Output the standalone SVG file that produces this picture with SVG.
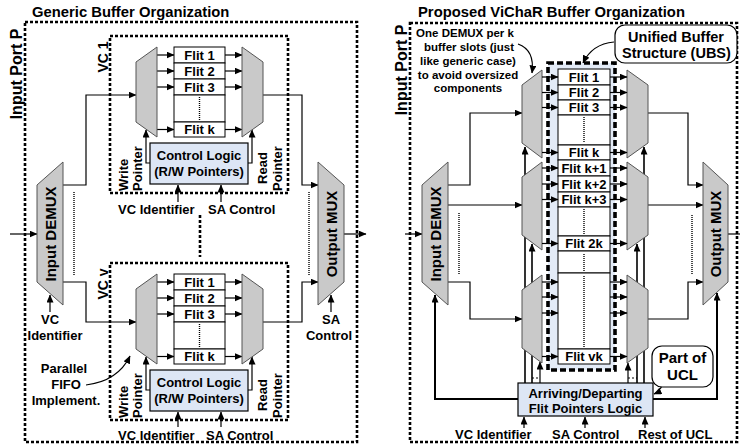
<svg xmlns="http://www.w3.org/2000/svg" width="740" height="446" viewBox="0 0 740 446">
<defs>
<marker id="ah" markerUnits="userSpaceOnUse" markerWidth="8" markerHeight="7" refX="7.5" refY="3.5" orient="auto" viewBox="0 0 8 7"><path d="M0,0 L8,3.5 L0,7 z" fill="#000"/></marker>
<style>
text{font-family:"Liberation Sans",Arial,Helvetica,sans-serif;font-weight:bold;fill:#000}
.f13{font-size:13px}
.f15{font-size:15px}
.c{text-anchor:middle}
.dbox{fill:none;stroke:#000;stroke-width:2.6;stroke-dasharray:3 2}
.ubs{fill:#e3ebf7;stroke:#000;stroke-width:3.6;stroke-dasharray:6 3}
.trap{fill:#c9c9c9;stroke:#555;stroke-width:1}
.flit{fill:#fff;stroke:#000;stroke-width:1}
.ln{fill:none;stroke:#000;stroke-width:1.2}
.arr{marker-end:url(#ah)}
.thk{fill:none;stroke:#000;stroke-width:2}
.dot{fill:none;stroke:#000;stroke-width:1.4;stroke-dasharray:1 1}
.blue{fill:#dde6f5;stroke:#000;stroke-width:1.2}
.rnd{fill:#fff;stroke:#000;stroke-width:1.2}
</style>
</defs>
<rect width="740" height="446" fill="#fff"/>

<!-- frames -->
<g id="generic-frame">
<text x="32" y="17" style="font-size:14.8px">Generic Buffer Organization</text>
<rect class="dbox" x="25" y="22" width="332" height="420"/>
<text transform="translate(22,74) rotate(-90)" class="c" style="font-size:16px">Input Port P</text>
<line class="dbox" x1="200" y1="215" x2="200" y2="257"/>
</g>
<g id="vichar-frame">
<text x="418" y="17" style="font-size:14.8px">Proposed ViChaR Buffer Organization</text>
<rect class="dbox" x="410" y="23" width="327" height="419"/>
<text transform="translate(407,70) rotate(-90)" class="c" style="font-size:16px">Input Port P</text>
</g>

<!-- connectors -->
<g id="connectors" class="ln">
<!-- left panel -->
<path class="arr" d="M10,234 H37"/>
<path class="arr" d="M63,185 H86 V95 H136"/>
<path class="arr" d="M63,282 H86 V322 H136"/>
<path class="arr" d="M263,95 H302 V185 H318"/>
<path class="arr" d="M263,322 H302 V282 H318"/>
<path class="arr" d="M344,234 H366"/>
<path class="arr" d="M50,312 V295"/>
<path class="arr" d="M331,312 V295"/>
<path class="arr" d="M86,385 Q118,381 130,356"/>
<line class="dot" x1="74" y1="192" x2="74" y2="275"/>
<line class="dot" x1="309" y1="192" x2="309" y2="275"/>
<g id="vc1-links">
<path class="arr" d="M157,55 H174"/><path class="arr" d="M157,71 H174"/><path class="arr" d="M157,87 H174"/><path class="arr" d="M157,129.5 H174"/>
<path class="arr" d="M225,55 H242"/><path class="arr" d="M225,71 H242"/><path class="arr" d="M225,87 H242"/><path class="arr" d="M225,129.5 H242"/>
<path class="arr" d="M150,163 H146 V130"/>
<path class="arr" d="M248,163 H252 V130"/>
<path class="arr" d="M178,202 V185"/>
<path class="arr" d="M221,202 V185"/>
</g>
<g id="vcv-links" transform="translate(0,227)">
<path class="arr" d="M157,55 H174"/><path class="arr" d="M157,71 H174"/><path class="arr" d="M157,87 H174"/><path class="arr" d="M157,129.5 H174"/>
<path class="arr" d="M225,55 H242"/><path class="arr" d="M225,71 H242"/><path class="arr" d="M225,87 H242"/><path class="arr" d="M225,129.5 H242"/>
<path class="arr" d="M150,163 H146 V130"/>
<path class="arr" d="M248,163 H252 V130"/>
<path class="arr" d="M178,200 V185"/>
<path class="arr" d="M221,200 V185"/>
</g>
<!-- right panel -->
<path class="arr" d="M405,234 H422"/>
<path class="arr" d="M448,185 H470 V113 H522"/>
<path class="arr" d="M448,205 H522"/>
<path class="arr" d="M448,282 H470 V319 H522"/>
<path class="arr" d="M648,113 H688 V185 H703"/>
<path class="arr" d="M648,205 H703"/>
<path class="arr" d="M648,319 H688 V282 H703"/>
<path d="M728,234 H740"/>
<line class="dot" x1="459" y1="213" x2="459" y2="274"/>
<line class="dot" x1="692" y1="215" x2="692" y2="274"/>
<path class="thk arr" d="M518,399 H435 V295"/>
<path class="thk arr" d="M653,399 H717 V293"/>
<path class="arr" style="stroke-width:1.6" d="M525,383 V147"/>
<path class="arr" style="stroke-width:1.6" d="M532,383 V244"/>
<path class="arr" d="M540,383 V362"/>
<path class="arr" d="M628,383 V363"/>
<path class="arr" style="stroke-width:1.6" d="M637,383 V244"/>
<path class="arr" style="stroke-width:1.6" d="M644,383 V147"/>
<line x1="532" y1="378" x2="540" y2="378" stroke-dasharray="2 2"/>
<line x1="628" y1="378" x2="637" y2="378" stroke-dasharray="2 2"/>
<path class="arr" d="M524,428 V417"/>
<path class="arr" d="M585,428 V417"/>
<path class="arr" d="M645,428 V417"/>
<path class="arr" d="M518,44 Q535,50 532,73"/>
<path class="arr" d="M614,42 Q592,44 583,63"/>
<path class="arr" d="M664,377 Q663,390 654,394"/>
</g>

<!-- left panel nodes -->
<g id="input-demux-l">
<polygon class="trap" points="37,185 63,162 63,305 37,282"/>
<text class="f15 c" transform="translate(55.5,234) rotate(-90)">Input DEMUX</text>
</g>
<g id="output-mux-l">
<polygon class="trap" points="318,162 344,185 344,282 318,305"/>
<text class="f15 c" transform="translate(336.5,234) rotate(-90)">Output MUX</text>
</g>
<g id="vc1">
<rect class="dbox" x="110" y="36" width="178" height="157"/>
<text transform="translate(108,57) rotate(-90)" class="c" style="font-size:14px">VC 1</text>
<polygon class="trap" points="136,62 157,47 157,137 136,122"/>
<polygon class="trap" points="242,47 263,62 263,122 242,137"/>
<rect class="flit" x="174" y="47" width="51" height="16"/>
<rect class="flit" x="174" y="63" width="51" height="16"/>
<rect class="flit" x="174" y="79" width="51" height="16"/>
<rect class="flit" x="174" y="95" width="51" height="27"/>
<rect class="flit" x="174" y="122" width="51" height="15"/>
<line class="dot" x1="199.5" y1="97" x2="199.5" y2="120"/>
<text class="f13 c" x="199.5" y="59.5">Flit 1</text>
<text class="f13 c" x="199.5" y="75.5">Flit 2</text>
<text class="f13 c" x="199.5" y="91.5">Flit 3</text>
<text class="f13 c" x="199.5" y="134">Flit k</text>
<rect class="blue" x="150" y="143" width="98" height="41"/>
<text class="f13 c" x="199" y="160">Control Logic</text>
<text class="f13 c" x="199" y="176">(R/W Pointers)</text>
<text class="f13" transform="translate(128,191) rotate(-90)">Write</text>
<text class="f13" transform="translate(142,191) rotate(-90)">Pointer</text>
<text class="f13 c" transform="translate(267,168) rotate(-90)">Read</text>
<text class="f13" transform="translate(282,191) rotate(-90)">Pointer</text>
<text class="f13" x="118" y="214">VC Identifier</text>
<text class="f13" x="208" y="214">SA Control</text>
</g>
<g id="vcv">
<rect class="dbox" x="110" y="263" width="178" height="157"/>
<text transform="translate(108,284) rotate(-90)" class="c" style="font-size:14px">VC v</text>
<polygon class="trap" points="136,289 157,274 157,364 136,349"/>
<polygon class="trap" points="242,274 263,289 263,349 242,364"/>
<rect class="flit" x="174" y="274" width="51" height="16"/>
<rect class="flit" x="174" y="290" width="51" height="16"/>
<rect class="flit" x="174" y="306" width="51" height="16"/>
<rect class="flit" x="174" y="322" width="51" height="27"/>
<rect class="flit" x="174" y="349" width="51" height="15"/>
<line class="dot" x1="199.5" y1="324" x2="199.5" y2="347"/>
<text class="f13 c" x="199.5" y="286.5">Flit 1</text>
<text class="f13 c" x="199.5" y="302.5">Flit 2</text>
<text class="f13 c" x="199.5" y="318.5">Flit 3</text>
<text class="f13 c" x="199.5" y="361">Flit k</text>
<rect class="blue" x="150" y="370" width="98" height="41"/>
<text class="f13 c" x="199" y="387">Control Logic</text>
<text class="f13 c" x="199" y="403">(R/W Pointers)</text>
<text class="f13" transform="translate(128,418) rotate(-90)">Write</text>
<text class="f13" transform="translate(142,418) rotate(-90)">Pointer</text>
<text class="f13 c" transform="translate(267,395) rotate(-90)">Read</text>
<text class="f13" transform="translate(282,418) rotate(-90)">Pointer</text>
<text class="f13" x="118" y="439.5">VC Identifier</text>
<text class="f13" x="206" y="439.5">SA Control</text>
</g>
<g id="labels-l">
<text class="f13 c" x="50" y="324">VC</text>
<text class="f13 c" x="55" y="340">Identifier</text>
<text class="f13 c" x="331" y="324">SA</text>
<text class="f13 c" x="329" y="340">Control</text>
<text class="f13 c" x="64" y="373">Parallel</text>
<text class="f13 c" x="66" y="389">FIFO</text>
<text class="f13 c" x="66" y="405">Implement.</text>
</g>

<!-- right panel nodes -->
<g id="input-demux-r">
<polygon class="trap" points="422,185 448,162 448,305 422,282"/>
<text class="f15 c" transform="translate(440.5,234) rotate(-90)">Input DEMUX</text>
</g>
<g id="output-mux-r">
<polygon class="trap" points="703,162 728,185 728,282 703,305"/>
<text class="f15 c" transform="translate(721,234) rotate(-90)">Output MUX</text>
</g>
<g id="demuxes">
<polygon class="trap" points="522,85 542,70 542,158 522,143"/>
<polygon class="trap" points="522,177 542,162 542,250 522,235"/>
<polygon class="trap" points="522,290 542,275 542,363 522,348"/>
</g>
<g id="muxes">
<polygon class="trap" points="627,70 648,85 648,143 627,158"/>
<polygon class="trap" points="627,162 648,177 648,235 627,250"/>
<polygon class="trap" points="627,275 648,290 648,348 627,363"/>
</g>
<g id="ubs">
<rect class="ubs" x="548" y="63" width="67" height="307"/>
<rect class="flit" x="558" y="69" width="52" height="16"/>
<rect class="flit" x="558" y="85" width="52" height="15"/>
<rect class="flit" x="558" y="100" width="52" height="15"/>
<rect class="flit" x="558" y="115" width="52" height="30"/>
<rect class="flit" x="558" y="145" width="52" height="15"/>
<rect class="flit" x="558" y="160" width="52" height="16"/>
<rect class="flit" x="558" y="176" width="52" height="16"/>
<rect class="flit" x="558" y="192" width="52" height="15"/>
<rect class="flit" x="558" y="207" width="52" height="29"/>
<rect class="flit" x="558" y="236" width="52" height="15"/>
<rect class="flit" x="558" y="251" width="52" height="22"/>
<rect class="flit" x="558" y="273" width="52" height="76"/>
<rect class="flit" x="558" y="349" width="52" height="15"/>
<line class="dot" x1="584" y1="117" x2="584" y2="143"/>
<line class="dot" x1="584" y1="209" x2="584" y2="234"/>
<line class="dot" x1="584" y1="254" x2="584" y2="271"/>
<line class="dot" x1="584" y1="276" x2="584" y2="347"/>
<text class="f13 c" x="584" y="81.5">Flit 1</text>
<text class="f13 c" x="584" y="97">Flit 2</text>
<text class="f13 c" x="584" y="112">Flit 3</text>
<text class="f13 c" x="584" y="157">Flit k</text>
<text class="f13 c" x="584" y="172.5">Flit k+1</text>
<text class="f13 c" x="584" y="188.5">Flit k+2</text>
<text class="f13 c" x="584" y="204">Flit k+3</text>
<text class="f13 c" x="584" y="248">Flit 2k</text>
<text class="f13 c" x="584" y="361">Flit vk</text>
</g>
<g id="ubs-arrows" class="ln">
<path class="arr" d="M542,77 H558"/><path class="arr" d="M542,92.5 H558"/><path class="arr" d="M542,107.5 H558"/><path class="arr" d="M542,152.5 H558"/>
<path class="arr" d="M542,168 H558"/><path class="arr" d="M542,184 H558"/><path class="arr" d="M542,199.5 H558"/><path class="arr" d="M542,243.5 H558"/>
<path class="arr" d="M542,282 H558"/><path class="arr" d="M542,297 H558"/><path class="arr" d="M542,313 H558"/><path class="arr" d="M542,356.5 H558"/>
<path class="arr" d="M610,77 H627"/><path class="arr" d="M610,92.5 H627"/><path class="arr" d="M610,107.5 H627"/><path class="arr" d="M610,152.5 H627"/>
<path class="arr" d="M610,168 H627"/><path class="arr" d="M610,184 H627"/><path class="arr" d="M610,199.5 H627"/><path class="arr" d="M610,243.5 H627"/>
<path class="arr" d="M610,282 H627"/><path class="arr" d="M610,297 H627"/><path class="arr" d="M610,313 H627"/><path class="arr" d="M610,356.5 H627"/>
</g>
<g id="pointer-logic">
<rect class="blue" x="518" y="383" width="135" height="33"/>
<text class="f13 c" x="585.5" y="397.5">Arriving/Departing</text>
<text class="f13 c" x="585.5" y="412.5">Flit Pointers Logic</text>
</g>
<g id="ubs-label">
<rect class="rnd" x="615" y="25" width="122" height="38" rx="10"/>
<text class="c" style="font-size:14.5px" x="676" y="41.5">Unified Buffer</text>
<text class="c" style="font-size:14.5px" x="676.5" y="58">Structure (UBS)</text>
</g>
<g id="ucl-label">
<rect class="rnd" x="652" y="346" width="61" height="41" rx="10"/>
<text class="c f15" x="682.5" y="363">Part of</text>
<text class="c f15" x="682.5" y="380">UCL</text>
</g>
<g id="demux-note">
<text class="c" style="font-size:11.5px" x="465" y="37">One DEMUX per k</text>
<text class="c" style="font-size:11.5px" x="469" y="51">buffer slots (just</text>
<text class="c" style="font-size:11.5px" x="468" y="65">like generic case)</text>
<text class="c" style="font-size:11.5px" x="468" y="79">to avoid oversized</text>
<text class="c" style="font-size:11.5px" x="468" y="92">components</text>
</g>
<g id="labels-r">
<text class="f13" x="455" y="439">VC Identifier</text>
<text class="f13" x="552" y="439">SA Control</text>
<text class="f13" x="638" y="439">Rest of UCL</text>
</g>
</svg>
